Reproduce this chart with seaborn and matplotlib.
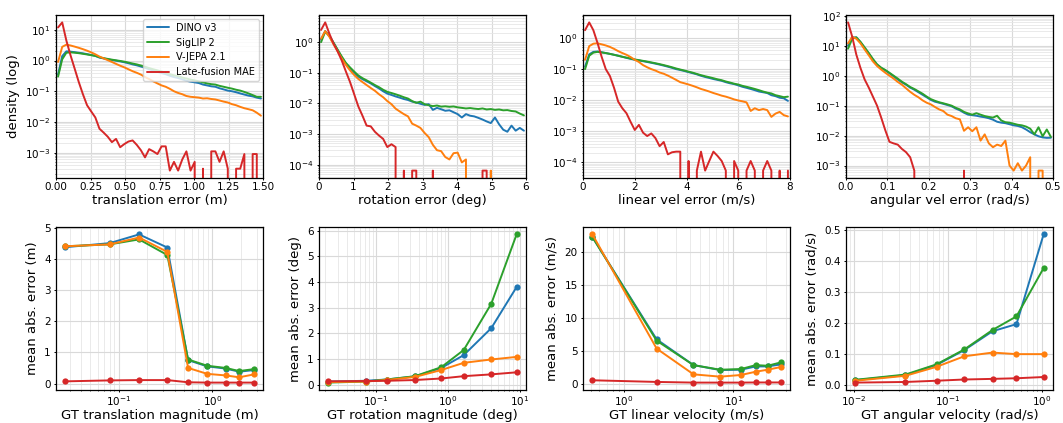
import numpy as np
import pandas as pd
import matplotlib
matplotlib.use("Agg")
import matplotlib.pyplot as plt
import seaborn as sns

# ---------------- data ----------------
models = ["DINO v3", "SigLIP 2", "V-JEPA 2.1", "Late-fusion MAE"]
colors = ["#1f77b4", "#2ca02c", "#ff7f0e", "#d62728"]

# top row: error histograms (density), 50 bins each
trans_range = (0.0, 1.5)
trans_dino = [0.35, 1.4, 2.0, 1.95, 1.88, 1.80, 1.72, 1.62, 1.52, 1.42,
              1.25, 1.17, 1.10, 1.04, 0.99, 0.94, 0.88, 0.82, 0.75, 0.70,
              0.64, 0.58, 0.52, 0.47, 0.43, 0.39, 0.36, 0.32, 0.29, 0.27,
              0.245, 0.22, 0.205, 0.195, 0.185, 0.165, 0.155, 0.145, 0.14, 0.125,
              0.115, 0.105, 0.10, 0.093, 0.085, 0.078, 0.072, 0.068, 0.062, 0.058]
trans_siglip = [0.3, 1.1, 1.8, 1.85, 1.8, 1.74, 1.66, 1.58, 1.50, 1.42,
                1.28, 1.20, 1.13, 1.07, 1.02, 0.97, 0.92, 0.86, 0.80, 0.75,
                0.69, 0.63, 0.57, 0.52, 0.48, 0.44, 0.40, 0.36, 0.33, 0.31,
                0.28, 0.26, 0.24, 0.225, 0.21, 0.195, 0.18, 0.17, 0.165, 0.15,
                0.14, 0.13, 0.122, 0.112, 0.105, 0.095, 0.085, 0.075, 0.066, 0.066]
trans_vjepa = [0.9, 2.8, 3.3, 3.1, 2.85, 2.6, 2.35, 2.1, 1.85, 1.6,
               1.35, 1.18, 1.03, 0.9, 0.78, 0.68, 0.6, 0.52, 0.45, 0.4,
               0.35, 0.29, 0.25, 0.21, 0.18, 0.155, 0.14, 0.12, 0.10, 0.088,
               0.08, 0.07, 0.066, 0.064, 0.062, 0.058, 0.059, 0.056, 0.054, 0.05,
               0.046, 0.043, 0.038, 0.035, 0.031, 0.028, 0.026, 0.024, 0.02, 0.016]
trans_mae = [12, 17.5, 4.5, 1.5, 0.55, 0.2, 0.08, 0.035, 0.022, 0.014,
             0.006, 0.0045, 0.0033, 0.0022, 0.0028, 0.0015, 0.0019, 0.0023, 0.0025, 0.0018,
             0.0012, 0.0007, 0.0013, 0.0011, 0.0009, 0.0016, 0.0016, 0.00026, 0.0005, 0.00026,
             0.0006, 0.0011, 0.00026, 0.0005, 0, 0.0003, 0, 0.0011, 0.0011, 0.0005,
             0.0011, 0.0003, 0, 0.0003, 0.0003, 0.0009, 0, 0.0009, 0.0009, 0]

rot_range = (0.0, 6.0)
rot_dino = [1.2, 2.3, 1.6, 0.95, 0.55, 0.32, 0.2, 0.14, 0.1, 0.075,
            0.062, 0.053, 0.045, 0.037, 0.031, 0.025, 0.021, 0.019, 0.017, 0.0155,
            0.014, 0.013, 0.0115, 0.0108, 0.0098, 0.009, 0.0095, 0.0062, 0.0072, 0.0065,
            0.0058, 0.006, 0.0052, 0.0045, 0.0035, 0.0045, 0.004, 0.0038, 0.0034, 0.003,
            0.0026, 0.0023, 0.0035, 0.0021, 0.0014, 0.0012, 0.0019, 0.0013, 0.0016, 0.0013]
rot_siglip = [1.0, 2.2, 1.6, 0.97, 0.57, 0.34, 0.21, 0.15, 0.11, 0.082,
              0.067, 0.057, 0.048, 0.04, 0.034, 0.028, 0.024, 0.022, 0.02, 0.018,
              0.016, 0.0145, 0.012, 0.0105, 0.0115, 0.0095, 0.0088, 0.0082, 0.0086, 0.0079,
              0.0081, 0.0078, 0.008, 0.0075, 0.0072, 0.0069, 0.0071, 0.0068, 0.0066, 0.0069,
              0.0064, 0.0066, 0.0062, 0.0064, 0.006, 0.0061, 0.0057, 0.0055, 0.0047, 0.0041]
rot_vjepa = [1.3, 2.3, 1.5, 0.85, 0.5, 0.29, 0.18, 0.12, 0.085, 0.063,
             0.05, 0.04, 0.032, 0.026, 0.02, 0.016, 0.012, 0.0095, 0.0068, 0.0055,
             0.0045, 0.0038, 0.0022, 0.0019, 0.0016, 0.0011, 0.0008, 0.00045, 0.0003, 0.00028,
             0.00018, 0.00015, 0.00024, 0.00025, 0.00012, 0.00015, 0, 0, 0, 0,
             0, 0.000065, 0, 0, 0, 0, 0, 0, 0, 0]
rot_mae = [2.5, 4.4, 1.9, 0.9, 0.5, 0.25, 0.11, 0.05, 0.02, 0.008,
           0.004, 0.0019, 0.0018, 0.0012, 0.0009, 0.0007, 0.00038, 0.00047, 0.00038, 0,
           0.000065, 0, 0.000065, 0.000065, 0, 0, 0, 0.000065, 0, 0,
           0, 0, 0, 0, 0, 0, 0, 0, 0, 0.000065,
           0.000065, 0, 0, 0, 0, 0, 0, 0, 0, 0]

lin_range = (0.0, 8.0)
lin_dino = [0.12, 0.3, 0.36, 0.37, 0.35, 0.33, 0.31, 0.29, 0.27, 0.25,
            0.23, 0.215, 0.2, 0.19, 0.18, 0.17, 0.16, 0.15, 0.14, 0.13,
            0.12, 0.11, 0.1, 0.094, 0.087, 0.08, 0.074, 0.068, 0.061, 0.056,
            0.052, 0.048, 0.045, 0.042, 0.038, 0.035, 0.033, 0.03, 0.027, 0.025,
            0.023, 0.021, 0.019, 0.018, 0.017, 0.0145, 0.0135, 0.012, 0.0115, 0.0095]
lin_siglip = [0.1, 0.27, 0.34, 0.36, 0.345, 0.33, 0.31, 0.29, 0.27, 0.25,
              0.235, 0.22, 0.205, 0.195, 0.185, 0.175, 0.165, 0.155, 0.145, 0.135,
              0.125, 0.115, 0.105, 0.097, 0.09, 0.083, 0.077, 0.07, 0.064, 0.059,
              0.055, 0.051, 0.047, 0.044, 0.04, 0.037, 0.034, 0.032, 0.029, 0.027,
              0.025, 0.023, 0.021, 0.019, 0.0175, 0.0165, 0.0145, 0.0135, 0.0125, 0.013]
lin_vjepa = [0.2, 0.55, 0.66, 0.68, 0.63, 0.58, 0.52, 0.45, 0.38, 0.33,
             0.29, 0.245, 0.2, 0.17, 0.135, 0.115, 0.1, 0.09, 0.078, 0.071,
             0.062, 0.053, 0.045, 0.038, 0.035, 0.032, 0.029, 0.026, 0.023, 0.021,
             0.019, 0.017, 0.0155, 0.014, 0.013, 0.0118, 0.0106, 0.0098, 0.0092, 0.0085,
             0.0045, 0.0055, 0.0048, 0.0052, 0.0048, 0.0029, 0.0037, 0.0042, 0.0033, 0.003]
lin_mae = [1.8, 3.2, 1.8, 0.7, 0.25, 0.1, 0.06, 0.025, 0.009, 0.0055,
           0.0038, 0.002, 0.0011, 0.0016, 0.0009, 0.0007, 0.00085, 0.0006, 0.00033, 0.00045,
           0.00018, 0.00021, 0.00022, 0.00022, 0, 0.00011, 0, 0.000054, 0.00022, 0.000054,
           0.00011, 0.00022, 0.00016, 0.00011, 0.000054, 0, 0.00011, 0.000054, 0, 0.000054,
           0.00011, 0.000054, 0, 0.000054, 0.00011, 0.000054, 0, 0.000054, 0, 0.000054]

ang_range = (0.0, 0.5)
ang_dino = [10, 19, 19, 13, 8.5, 5.5, 3.5, 2.3, 1.8, 1.5,
            1.2, 0.95, 0.75, 0.6, 0.5, 0.4, 0.34, 0.28, 0.23, 0.19,
            0.155, 0.135, 0.125, 0.115, 0.105, 0.095, 0.08, 0.07, 0.058, 0.05,
            0.048, 0.046, 0.043, 0.041, 0.038, 0.034, 0.029, 0.027, 0.026, 0.024,
            0.022, 0.021, 0.019, 0.016, 0.013, 0.011, 0.0095, 0.0087, 0.0084, 0.0085]
ang_siglip = [8, 17, 19, 13.5, 8.8, 5.7, 3.6, 2.4, 1.85, 1.55,
              1.25, 1.0, 0.8, 0.63, 0.52, 0.42, 0.36, 0.3, 0.25, 0.2,
              0.165, 0.145, 0.13, 0.12, 0.11, 0.1, 0.085, 0.075, 0.062, 0.055,
              0.05, 0.056, 0.05, 0.045, 0.042, 0.04, 0.046, 0.032, 0.028, 0.027,
              0.025, 0.023, 0.022, 0.02, 0.017, 0.011, 0.019, 0.0095, 0.016, 0.009]
ang_vjepa = [12, 20, 17, 12, 7.5, 4.8, 3.0, 2.1, 1.6, 1.25,
             1.0, 0.8, 0.62, 0.5, 0.38, 0.29, 0.23, 0.19, 0.15, 0.125,
             0.11, 0.09, 0.075, 0.066, 0.05, 0.045, 0.038, 0.035, 0.0145, 0.019,
             0.014, 0.019, 0.0068, 0.011, 0.0055, 0.0041, 0.005, 0.0045, 0.0068, 0.001,
             0.00068, 0.0012, 0.00068, 0.001, 0.0019, 0, 0.00068, 0.00068, 0, 0]
ang_mae = [60, 20, 5, 1.8, 0.75, 0.4, 0.2, 0.1, 0.04, 0.015,
           0.0062, 0.0055, 0.005, 0.0036, 0.0028, 0.0019, 0.00068, 0, 0, 0,
           0, 0, 0, 0, 0, 0, 0, 0, 0.00068, 0,
           0, 0, 0, 0, 0, 0, 0, 0, 0, 0,
           0, 0, 0, 0, 0, 0, 0, 0, 0, 0]

# bottom row: mean abs. error vs GT magnitude bins
tmag_x = [0.027, 0.08, 0.165, 0.33, 0.55, 0.88, 1.38, 1.93, 2.75]
tmag_dino = [4.37, 4.50, 4.78, 4.36, 0.75, 0.55, 0.48, 0.38, 0.43]
tmag_siglip = [4.40, 4.46, 4.62, 4.12, 0.77, 0.57, 0.50, 0.40, 0.46]
tmag_vjepa = [4.40, 4.46, 4.68, 4.22, 0.50, 0.31, 0.26, 0.20, 0.29]
tmag_mae = [0.07, 0.10, 0.11, 0.11, 0.04, 0.03, 0.03, 0.03, 0.03]

rmag_x = [0.022, 0.072, 0.141, 0.35, 0.81, 1.66, 4.0, 8.98]
rmag_dino = [0.12, 0.15, 0.2, 0.32, 0.65, 1.15, 2.2, 3.8]
rmag_siglip = [0.08, 0.12, 0.2, 0.33, 0.68, 1.35, 3.15, 5.85]
rmag_vjepa = [0.1, 0.12, 0.18, 0.3, 0.57, 0.85, 0.98, 1.08]
rmag_mae = [0.13, 0.14, 0.15, 0.18, 0.24, 0.33, 0.4, 0.48]

lvel_x = [0.52, 2.0, 4.33, 7.57, 11.7, 16.0, 20.5, 26.9]
lvel_dino = [22.3, 6.8, 2.9, 2.15, 2.2, 2.7, 2.7, 3.0]
lvel_siglip = [22.3, 6.6, 2.9, 2.2, 2.3, 2.9, 2.8, 3.3]
lvel_vjepa = [22.7, 5.4, 1.5, 1.15, 1.4, 1.9, 2.2, 2.6]
lvel_mae = [0.6, 0.35, 0.25, 0.25, 0.25, 0.27, 0.27, 0.27]

avel_x = [0.0104, 0.0355, 0.076, 0.15, 0.30, 0.54, 1.05]
avel_dino = [0.016, 0.032, 0.065, 0.113, 0.174, 0.197, 0.487]
avel_siglip = [0.017, 0.034, 0.067, 0.115, 0.178, 0.222, 0.378]
avel_vjepa = [0.014, 0.03, 0.059, 0.093, 0.105, 0.1, 0.1]
avel_mae = [0.008, 0.01, 0.014, 0.018, 0.02, 0.022, 0.026]

top_panels = [
    (trans_range, [trans_dino, trans_siglip, trans_vjepa, trans_mae], "translation error (m)"),
    (rot_range, [rot_dino, rot_siglip, rot_vjepa, rot_mae], "rotation error (deg)"),
    (lin_range, [lin_dino, lin_siglip, lin_vjepa, lin_mae], "linear vel error (m/s)"),
    (ang_range, [ang_dino, ang_siglip, ang_vjepa, ang_mae], "angular vel error (rad/s)"),
]
bottom_panels = [
    (tmag_x, [tmag_dino, tmag_siglip, tmag_vjepa, tmag_mae], "GT translation magnitude (m)", "mean abs. error (m)"),
    (rmag_x, [rmag_dino, rmag_siglip, rmag_vjepa, rmag_mae], "GT rotation magnitude (deg)", "mean abs. error (deg)"),
    (lvel_x, [lvel_dino, lvel_siglip, lvel_vjepa, lvel_mae], "GT linear velocity (m/s)", "mean abs. error (m/s)"),
    (avel_x, [avel_dino, avel_siglip, avel_vjepa, avel_mae], "GT angular velocity (rad/s)", "mean abs. error (rad/s)"),
]

# ---------------- style ----------------
sns.set_style("ticks")
plt.rcParams["font.family"] = ["DejaVu Sans"]
plt.rcParams.update({
    "axes.edgecolor": "black",
    "axes.linewidth": 0.9,
    "xtick.color": "black",
    "ytick.color": "black",
    "text.color": "black",
    "axes.labelcolor": "black",
    "xtick.labelsize": 7.5,
    "ytick.labelsize": 7.5,
    "axes.labelsize": 9.5,
    "xtick.direction": "out",
    "ytick.direction": "out",
    "xtick.major.size": 1.6,
    "ytick.major.size": 1.8,
    "xtick.minor.size": 1.0,
    "ytick.minor.size": 1.0,
    "xtick.major.pad": 1.4,
    "ytick.major.pad": 2.0,
    "xtick.minor.pad": 1.4,
    "ytick.minor.pad": 2.0,
    "xtick.major.width": 0.7,
    "ytick.major.width": 0.7,
    "xtick.minor.width": 0.5,
    "ytick.minor.width": 0.5,
})
palette = dict(zip(models, colors))


def long_df(x, series):
    frames = [pd.DataFrame({"x": x, "y": vals, "model": m}) for m, vals in zip(models, series)]
    return pd.concat(frames, ignore_index=True)


fig = plt.figure(figsize=(10.63, 4.23), dpi=100)
W, H = 1063.0, 423.0
lefts = [56, 319, 583, 846]
aw, ah = 207, 163

# ---------------- top row ----------------
for i, (rng, series, xlabel) in enumerate(top_panels):
    ax = fig.add_axes([lefts[i] / W, 1 - 178 / H, aw / W, ah / H])
    n = len(series[0])
    w = (rng[1] - rng[0]) / n
    x = np.linspace(rng[0] + w / 2, rng[1] - w / 2, n)
    df = long_df(x, series)
    sns.lineplot(data=df, x="x", y="y", hue="model", hue_order=models, palette=palette,
                 ax=ax, legend=(i == 0), linewidth=1.4, errorbar=None, estimator=None)
    ax.set_yscale("log")
    ax.set_xlim(*rng)
    ax.set_xlabel(xlabel, labelpad=1)
    ax.set_ylabel("density (log)" if i == 0 else "", labelpad=4)
    ax.set_axisbelow(True)
    ax.grid(True, which="major", color="#d9d9d9", lw=0.8)
    ax.grid(True, which="minor", axis="y", color="#e6e6e6", lw=0.6)
    if i == 0:
        sns.move_legend(ax, "upper right", title=None, fontsize=7, frameon=True,
                        handlelength=2.2, borderaxespad=0.4)

# ---------------- bottom row ----------------
for i, (x, series, xlabel, ylabel) in enumerate(bottom_panels):
    ax = fig.add_axes([lefts[i] / W, 1 - 390 / H, aw / W, ah / H])
    df = long_df(x, series)
    sns.lineplot(data=df, x="x", y="y", hue="model", hue_order=models, palette=palette,
                 ax=ax, legend=False, linewidth=1.4, errorbar=None, estimator=None,
                 marker="o", markersize=4.5, markeredgewidth=0)
    ax.set_xscale("log")
    ax.set_xlabel(xlabel, labelpad=0.5)
    ax.set_ylabel(ylabel, labelpad=4)
    ax.set_axisbelow(True)
    ax.grid(True, which="major", color="#d9d9d9", lw=0.8)
    ax.grid(True, which="minor", axis="x", color="#e6e6e6", lw=0.6)

fig.savefig("out.png", dpi=100)
